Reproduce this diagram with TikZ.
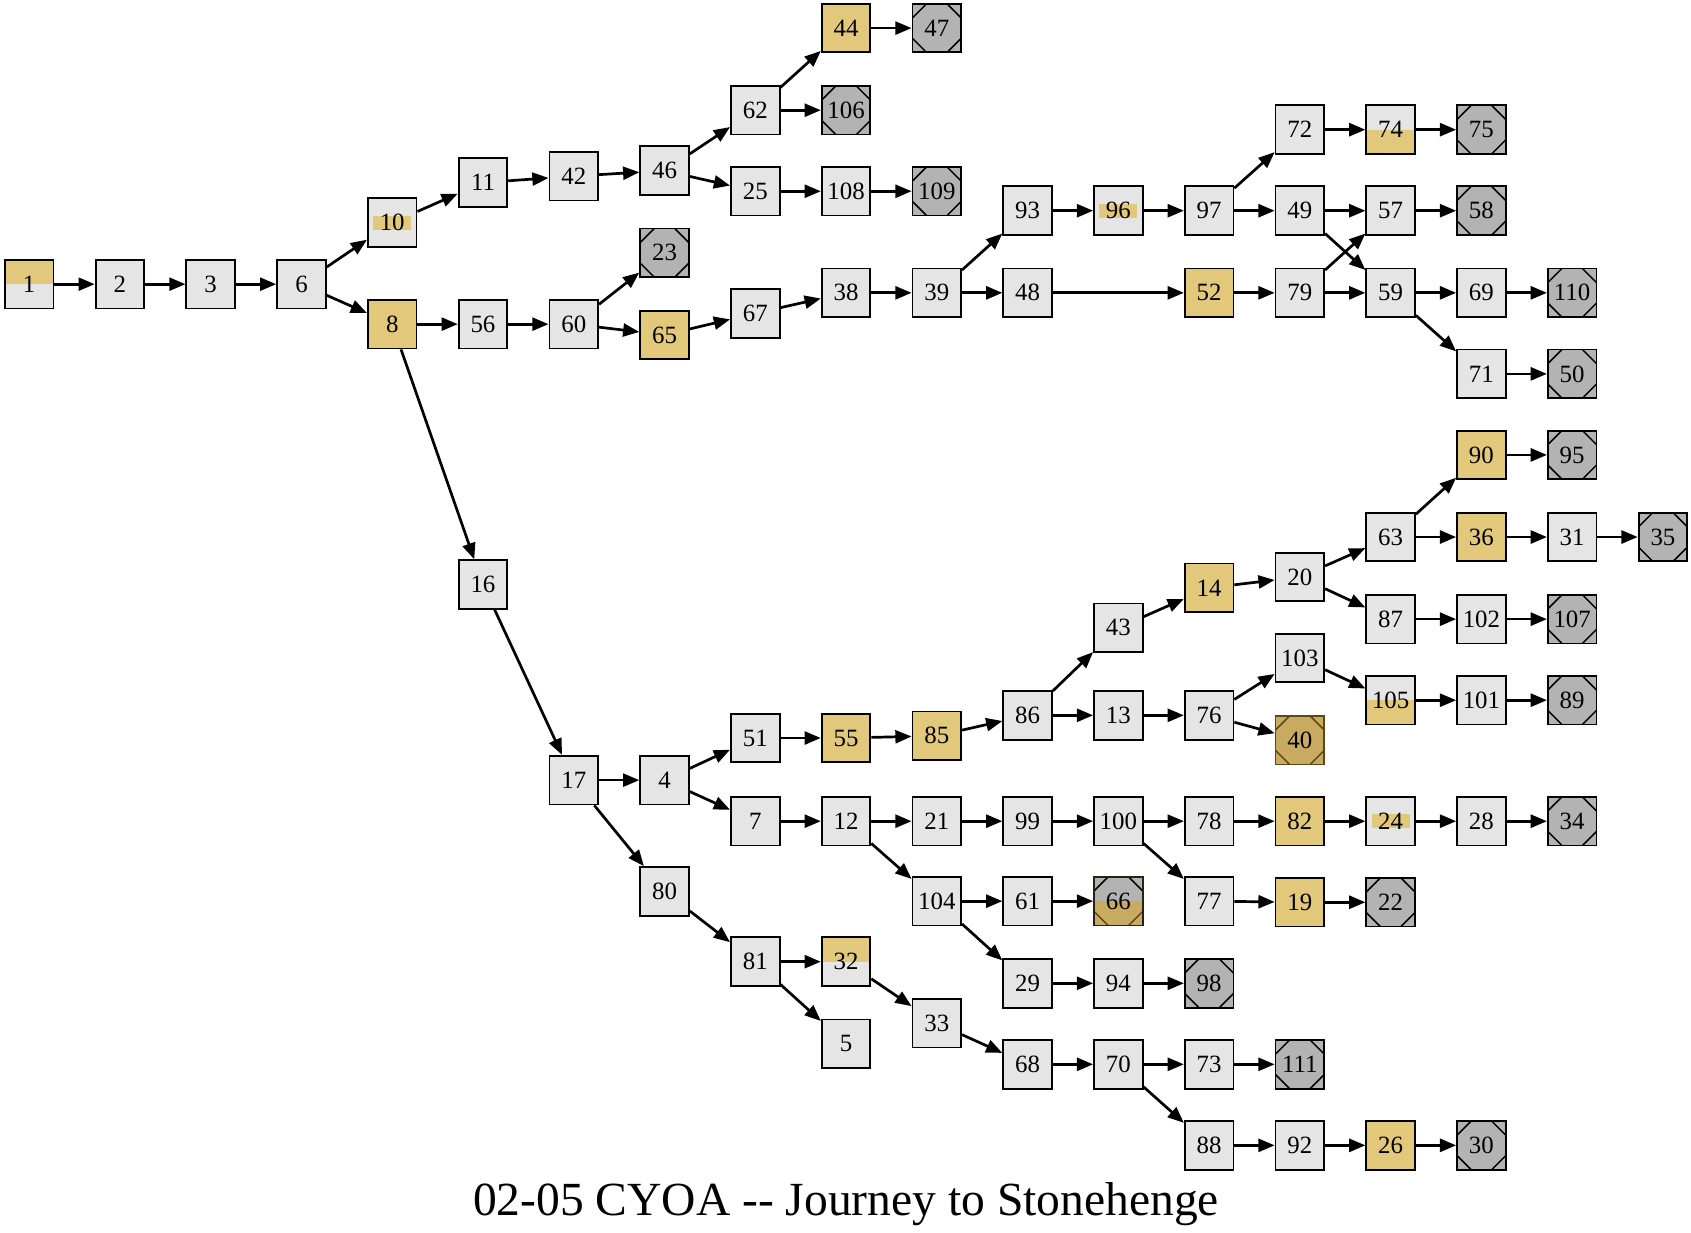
\documentclass[tikz,border=0pt]{standalone}
\usepackage{fontspec}
\setmainfont{Liberation Serif}
\usetikzlibrary{arrows.meta}
\definecolor{gold}{RGB}{226,200,122}
\definecolor{dgold}{RGB}{200,170,96}
\definecolor{dbrown}{RGB}{90,72,25}
\definecolor{lgray}{RGB}{229,229,229}
\definecolor{tgray}{RGB}{179,179,179}
\newcommand\pc[2]{([shift={(#1,#2)}]path picture bounding box.center)}
\newcommand\octup[1]{\draw[#1,line width=1.4pt] \pc{-23}{9} -- \pc{-9}{23} \pc{9}{23} -- \pc{23}{9};}
\newcommand\octdn[1]{\draw[#1,line width=1.4pt] \pc{23}{-9} -- \pc{9}{-23} \pc{-9}{-23} -- \pc{-23}{-9};}
\tikzset{
  nd/.style={draw=black, line width=1.7pt, minimum size=45pt, inner sep=0pt,
    font=\fontsize{23}{25}\selectfont, fill=lgray},
  gd/.style={nd, fill=gold},
  tm/.style={nd, fill=tgray, path picture={\octup{black}\octdn{black}}},
  tgold/.style={nd, fill=dgold, draw=dbrown, path picture={\octup{dbrown}\octdn{dbrown}}},
  thalf/.style={nd, fill=tgray, draw=black!80!dgold, path picture={\fill[dgold] (path picture bounding box.west) rectangle (path picture bounding box.south east);\octup{black}\octdn{dbrown}}},
  tophalf/.style={nd, path picture={\fill[gold] (path picture bounding box.north west) rectangle (path picture bounding box.east);}},
  bothalf/.style={nd, path picture={\fill[gold] (path picture bounding box.west) rectangle (path picture bounding box.south east);}},
  band/.style={nd, path picture={\fill[gold] \pc{-17.5}{-6.5} rectangle \pc{17.5}{6.5};}},
  ed/.style={line width=2.5pt, -{Triangle[length=15pt,width=12pt]}},
}
\begin{document}
\begin{tikzpicture}[x=1pt,y=1pt]
\useasboundingbox (0,0) rectangle (1565,-1141);
% column 0-3
\node[tophalf] (n1) at (27,-263) {1};
\node[nd] (n2) at (111,-263) {2};
\node[nd] (n3) at (195,-263) {3};
\node[nd] (n6) at (279,-263) {6};
% col 4
\node[band] (n10) at (363,-206) {10};
\node[gd] (n8) at (363,-300) {8};
% col 5
\node[nd] (n11) at (447,-169) {11};
\node[nd] (n56) at (447,-300) {56};
\node[nd] (n16) at (447,-541) {16};
% col 6
\node[nd] (n42) at (531,-163) {42};
\node[nd] (n60) at (531,-300) {60};
\node[nd] (n17) at (531,-722) {17};
% col 7
\node[nd] (n46) at (615,-158) {46};
\node[tm] (n23) at (615,-234) {23};
\node[gd] (n65) at (615,-310) {65};
\node[nd] (n4) at (615,-722) {4};
\node[nd] (n80) at (615,-825) {80};
% col 8
\node[nd] (n62) at (699,-102) {62};
\node[nd] (n25) at (699,-177) {25};
\node[nd] (n67) at (699,-290) {67};
\node[nd] (n51) at (699,-683) {51};
\node[nd] (n7) at (699,-760) {7};
\node[nd] (n81) at (699,-890) {81};
% col 9
\node[gd] (n44) at (783,-26) {44};
\node[tm] (n106) at (783,-102) {106};
\node[nd] (n108) at (783,-177) {108};
\node[nd] (n38) at (783,-271) {38};
\node[gd] (n55) at (783,-683) {55};
\node[nd] (n12) at (783,-760) {12};
\node[tophalf] (n32) at (783,-890) {32};
\node[nd] (n5) at (783,-966) {5};
% col 10
\node[tm] (n47) at (867,-26) {47};
\node[tm] (n109) at (867,-177) {109};
\node[nd] (n39) at (867,-271) {39};
\node[gd] (n85) at (867,-681) {85};
\node[nd] (n21) at (867,-760) {21};
\node[nd] (n104) at (867,-834) {104};
\node[nd] (n33) at (867,-947) {33};
% col 11
\node[nd] (n93) at (951,-195) {93};
\node[nd] (n48) at (951,-271) {48};
\node[nd] (n86) at (951,-662) {86};
\node[nd] (n99) at (951,-760) {99};
\node[nd] (n61) at (951,-834) {61};
\node[nd] (n29) at (951,-910) {29};
\node[nd] (n68) at (951,-985) {68};
% col 12
\node[band] (n96) at (1035,-195) {96};
\node[nd] (n43) at (1035,-581) {43};
\node[nd] (n13) at (1035,-662) {13};
\node[nd] (n100) at (1035,-760) {100};
\node[thalf] (n66) at (1035,-834) {66};
\node[nd] (n94) at (1035,-910) {94};
\node[nd] (n70) at (1035,-985) {70};
% col 13
\node[nd] (n97) at (1119,-195) {97};
\node[gd] (n52) at (1119,-271) {52};
\node[gd] (n14) at (1119,-544) {14};
\node[nd] (n76) at (1119,-662) {76};
\node[nd] (n78) at (1119,-760) {78};
\node[nd] (n77) at (1119,-834) {77};
\node[tm] (n98) at (1119,-910) {98};
\node[nd] (n73) at (1119,-985) {73};
\node[nd] (n88) at (1119,-1060) {88};
% col 14
\node[nd] (n72) at (1203,-120) {72};
\node[nd] (n49) at (1203,-195) {49};
\node[nd] (n79) at (1203,-271) {79};
\node[nd] (n20) at (1203,-534) {20};
\node[nd] (n103) at (1203,-609) {103};
\node[tgold] (n40) at (1203,-685) {40};
\node[gd] (n82) at (1203,-760) {82};
\node[gd] (n19) at (1203,-835) {19};
\node[tm] (n111) at (1203,-985) {111};
\node[nd] (n92) at (1203,-1060) {92};
% col 15
\node[bothalf] (n74) at (1287,-120) {74};
\node[nd] (n57) at (1287,-195) {57};
\node[nd] (n59) at (1287,-271) {59};
\node[nd] (n63) at (1287,-497) {63};
\node[nd] (n87) at (1287,-573) {87};
\node[bothalf] (n105) at (1287,-648) {105};
\node[band] (n24) at (1287,-760) {24};
\node[tm] (n22) at (1287,-835) {22};
\node[gd] (n26) at (1287,-1060) {26};
% col 16
\node[tm] (n75) at (1371,-120) {75};
\node[tm] (n58) at (1371,-195) {58};
\node[nd] (n69) at (1371,-271) {69};
\node[nd] (n71) at (1371,-346) {71};
\node[gd] (n90) at (1371,-421) {90};
\node[gd] (n36) at (1371,-497) {36};
\node[nd] (n102) at (1371,-573) {102};
\node[nd] (n101) at (1371,-648) {101};
\node[nd] (n28) at (1371,-760) {28};
\node[tm] (n30) at (1371,-1060) {30};
% col 17
\node[tm] (n110) at (1455,-271) {110};
\node[tm] (n50) at (1455,-346) {50};
\node[tm] (n95) at (1455,-421) {95};
\node[nd] (n31) at (1455,-497) {31};
\node[tm] (n107) at (1455,-573) {107};
\node[tm] (n89) at (1455,-648) {89};
\node[tm] (n34) at (1455,-760) {34};
% col 18
\node[tm] (n35) at (1539,-497) {35};
% title
\node[font=\fontsize{44}{48}\selectfont, anchor=base] (title) at (783,-1125) {02\mbox{-}05 CYOA \mbox{-}\mbox{-} Journey to Stonehenge};
% edges
\foreach \a/\b in {1/2,2/3,3/6,6/10,6/8,10/11,11/42,42/46,46/62,46/25,62/44,62/106,44/47,25/108,108/109,
  8/56,8/16,56/60,60/23,60/65,65/67,67/38,38/39,39/93,39/48,93/96,96/97,97/72,97/49,72/74,74/75,
  49/57,49/59,57/58,48/52,52/79,79/57,79/59,59/69,59/71,69/110,71/50,16/17,17/4,17/80,4/51,4/7,
  51/55,55/85,85/86,86/43,86/13,43/14,14/20,20/63,20/87,63/90,63/36,90/95,36/31,31/35,87/102,102/107,
  13/76,76/103,76/40,103/105,105/101,101/89,7/12,12/21,12/104,21/99,99/100,100/78,100/77,78/82,
  82/24,24/28,28/34,77/19,19/22,104/61,104/29,61/66,29/94,94/98,80/81,81/32,81/5,32/33,33/68,
  68/70,70/73,70/88,73/111,88/92,92/26,26/30}
  \draw[ed] (n\a) -- (n\b);
\end{tikzpicture}
\end{document}
